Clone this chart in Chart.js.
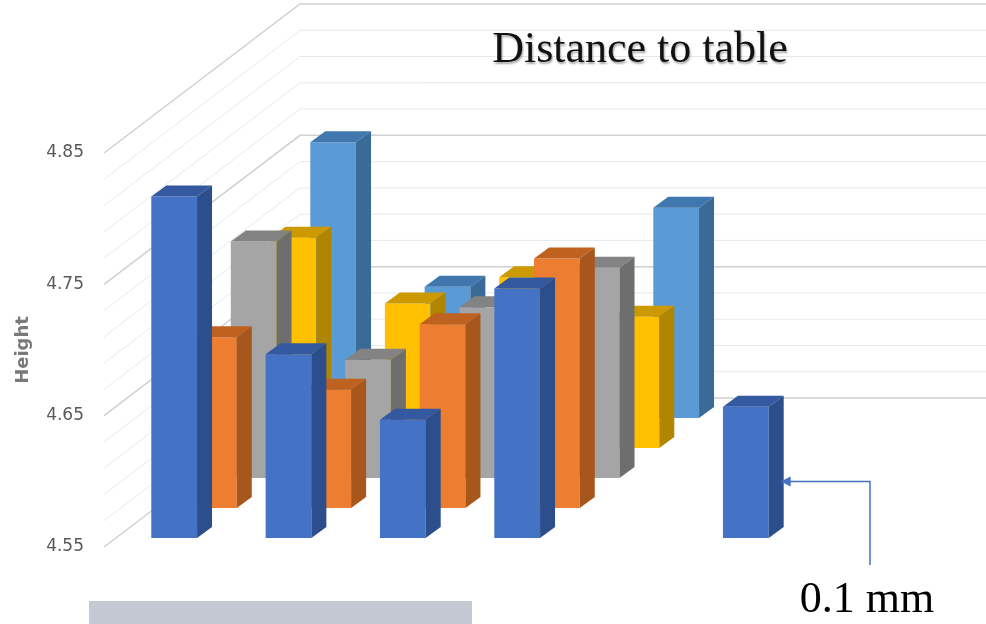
<!DOCTYPE html>
<html>
<head>
<meta charset="utf-8">
<script src="https://cdn.jsdelivr.net/npm/chart.js@4/dist/chart.umd.min.js"></script>
<style>
  html, body { margin: 0; padding: 0; background: #ffffff; }
  canvas { display: block; }
</style>
</head>
<body>
<canvas id="c" width="986" height="624"></canvas>
<script>
// ---------- data ----------
const categories = ['1', '2', '3', '4', '5', '6'];
const seriesNames = ['Series 1', 'Series 2', 'Series 3', 'Series 4', 'Series 5'];
const row1 = [4.81, 4.69, 4.64, 4.74, null, 4.65];   // front row (blue)
const row2 = [4.68, 4.64, 4.69, 4.74, null, null];   // orange
const row3 = [4.73, 4.64, 4.68, 4.71, null, null];   // gray
const row4 = [4.71, 4.66, 4.68, 4.65, null, null];   // yellow
const row5 = [4.76, 4.65, null, 4.71, null, null];   // back row (light blue)
const yTickLabels = [4.55, 4.65, 4.75, 4.85];
const yMin = 4.55;
const yMax = 4.85;
const gridStep = 0.02;
const chartTitle = 'Distance to table';
const axisTitle = 'Height';
const noteText = '0.1 mm';

// ---------- styles ----------
const frontColors = ['#4472C4', '#ED7D31', '#A5A5A5', '#FFC000', '#5B9BD5'];
const topColors   = ['#3459A0', '#C0621F', '#838383', '#CC9A00', '#3F77AE'];
const sideColors  = ['#2C4E8C', '#A8571C', '#6E6E6E', '#B08500', '#3A6A98'];
const VIEW = { frontDx: 13, frontDy: -9, rowDx: 39.75, rowDy: -30, barDx: 15, barDy: -11, wallDx: 196, wallDy: -149 };
function rowOffset(i) { return [VIEW.frontDx + VIEW.rowDx * i, VIEW.frontDy + VIEW.rowDy * i]; }

const rows = [row1, row2, row3, row4, row5];

const threeD = {
  id: 'threeD',
  beforeDatasetsDraw(chart) {
    const ctx = chart.ctx, area = chart.chartArea, ys = chart.scales.y;
    ctx.save();
    ys.ticks.forEach((t) => {
      const y = ys.getPixelForValue(t.value);
      const major = yTickLabels.some(v => Math.abs(v - t.value) < 1e-6);
      ctx.strokeStyle = major ? '#d0d0d0' : '#e8e8e8';
      ctx.lineWidth = major ? 1.5 : 1;
      ctx.beginPath();
      ctx.moveTo(area.left, y);
      ctx.lineTo(area.left + VIEW.wallDx, y + VIEW.wallDy);
      ctx.lineTo(chart.width, y + VIEW.wallDy);
      ctx.stroke();
    });
    ctx.restore();
  },
  beforeDatasetDraw(chart, args) {
    const [dx, dy] = rowOffset(args.index);
    chart.ctx.save();
    chart.ctx.translate(dx, dy);
  },
  afterDatasetDraw(chart, args) {
    const ctx = chart.ctx;
    const k = args.index;
    const data = chart.data.datasets[k].data;
    args.meta.data.forEach((el, j) => {
      if (data[j] == null) return;
      const p = el.getProps(['x', 'y', 'base', 'width'], true);
      const l = p.x - p.width / 2, r = p.x + p.width / 2, t = p.y, b = p.base;
      const DX = VIEW.barDx, DY = VIEW.barDy;
      ctx.fillStyle = topColors[k];
      ctx.beginPath();
      ctx.moveTo(l, t); ctx.lineTo(l + DX, t + DY); ctx.lineTo(r + DX, t + DY); ctx.lineTo(r, t);
      ctx.closePath(); ctx.fill();
      ctx.fillStyle = sideColors[k];
      ctx.beginPath();
      ctx.moveTo(r, t); ctx.lineTo(r + DX, t + DY); ctx.lineTo(r + DX, b + DY); ctx.lineTo(r, b);
      ctx.closePath(); ctx.fill();
    });
    ctx.restore();
  },
  afterDraw(chart) {
    const ctx = chart.ctx;
    ctx.save();
    // gray strip at bottom-left
    ctx.fillStyle = '#C4C8D2';
    ctx.fillRect(89, 601, 383, 23);
    // title
    ctx.font = '44px "Liberation Serif", "Times New Roman", serif';
    ctx.textAlign = 'center';
    ctx.textBaseline = 'alphabetic';
    ctx.shadowColor = 'rgba(0,0,0,0.35)';
    ctx.shadowOffsetX = 1; ctx.shadowOffsetY = 2; ctx.shadowBlur = 2;
    ctx.fillStyle = '#111111';
    ctx.fillText(chartTitle, 640, 62);
    ctx.shadowColor = 'rgba(0,0,0,0)';
    ctx.fillStyle = '#000000';
    ctx.fillText(noteText, 867, 612);
    // arrow to the reference bar
    const meta = chart.getDatasetMeta(0);
    const idx = row1.length - 1;
    const el = meta.data[idx];
    const p = el.getProps(['x', 'y', 'base', 'width'], true);
    const [dx, dy] = rowOffset(0);
    const tipX = p.x + p.width / 2 + dx + VIEW.barDx - 3;
    const tipY = p.y + 0.57 * (p.base - p.y) + dy;
    ctx.strokeStyle = '#4472C4';
    ctx.fillStyle = '#4472C4';
    ctx.lineWidth = 1.5;
    ctx.beginPath();
    ctx.moveTo(870, 565);
    ctx.lineTo(870, tipY);
    ctx.lineTo(tipX + 9, tipY);
    ctx.stroke();
    ctx.beginPath();
    ctx.moveTo(tipX, tipY);
    ctx.lineTo(tipX + 10, tipY - 5);
    ctx.lineTo(tipX + 10, tipY + 5);
    ctx.closePath();
    ctx.fill();
    ctx.restore();
  }
};

const datasets = rows.map((r, i) => ({
  label: seriesNames[i],
  data: r,
  base: yMin,
  backgroundColor: frontColors[i],
  borderWidth: 0,
  clip: false,
  grouped: false,
  barPercentage: 0.4,
  categoryPercentage: 1.0
}));

new Chart(document.getElementById('c'), {
  type: 'bar',
  data: { labels: categories, datasets },
  options: {
    responsive: false,
    devicePixelRatio: 1,
    animation: false,
    layout: { padding: { top: 153, bottom: 77, left: 0, right: 196 } },
    plugins: { legend: { display: false }, title: { display: false }, tooltip: { enabled: false } },
    scales: {
      x: { display: false },
      y: {
        min: yMin,
        max: yMax,
        afterFit(s) { s.width = 104; },
        border: { display: false },
        grid: { display: false, drawTicks: false },
        ticks: {
          stepSize: gridStep,
          autoSkip: false,
          padding: 20,
          color: '#595959',
          font: { family: '"DejaVu Sans", sans-serif', size: 17 },
          callback(v) { return yTickLabels.some(t => Math.abs(t - v) < 1e-6) ? Number(v).toFixed(2) : ''; }
        },
        title: {
          display: true,
          text: axisTitle,
          color: '#7a7a7a',
          font: { family: '"DejaVu Sans", sans-serif', size: 18, weight: 'bold' },
          padding: { top: 13, bottom: 0 }
        }
      }
    }
  },
  plugins: [threeD]
});
</script>
</body>
</html>
